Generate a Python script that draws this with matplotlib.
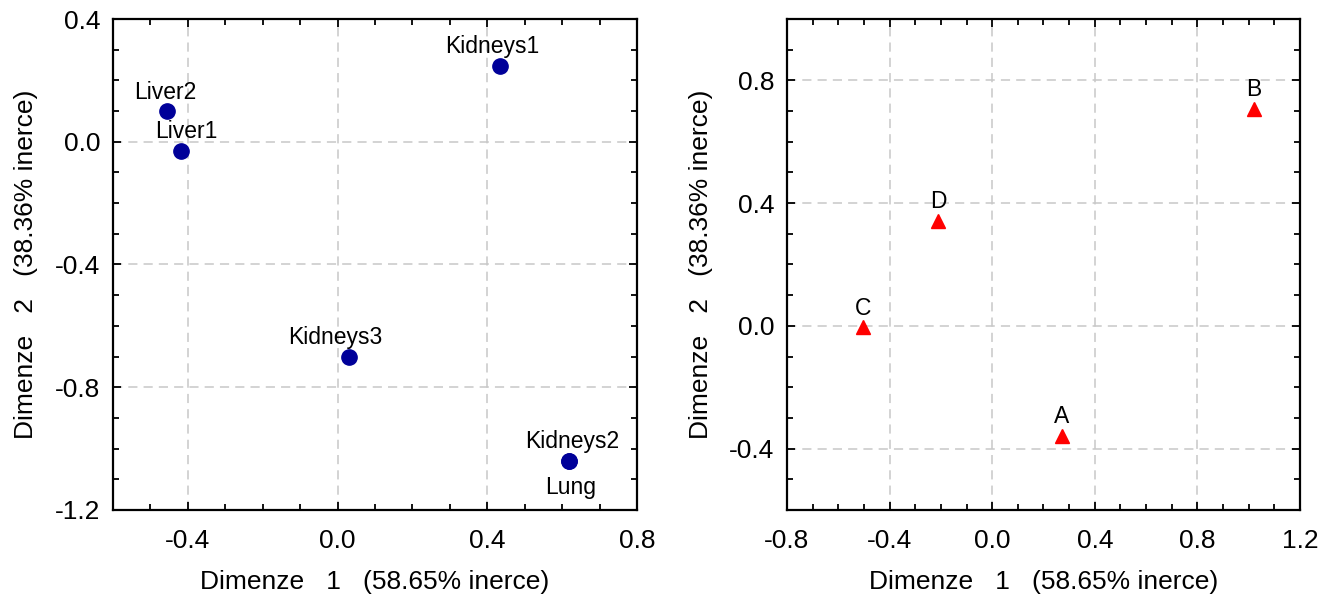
import numpy as np
import matplotlib
matplotlib.use('Agg')
import matplotlib.pyplot as plt
from matplotlib.ticker import MultipleLocator

plt.rcParams['font.family'] = ['Liberation Sans', 'DejaVu Sans']

# Row points (organs)
ROW_NAMES = ['Liver2', 'Liver1', 'Kidneys1', 'Kidneys3', 'Kidneys2', 'Lung']
ROW_X = [-0.456, -0.418, 0.435, 0.031, 0.619, 0.619]
ROW_Y = [0.10, -0.03, 0.247, -0.70, -1.04, -1.04]

# Column points
COL_NAMES = ['A', 'B', 'C', 'D']
COL_X = [0.272, 1.02, -0.504, -0.211]
COL_Y = [-0.358, 0.707, -0.005, 0.342]

XLABEL = 'Dimenze   1   (58.65% inerce)'
YLABEL = 'Dimenze   2   (38.36% inerce)'

# label offsets in points (dx, dy, va)
ROW_OFFSETS = [(-1, 9, 'baseline'), (4, 9, 'baseline'), (-6, 9, 'baseline'),
               (-10, 9, 'baseline'), (2, 9, 'baseline'), (1, -11, 'top')]


def style_axes(ax, xlim, ylim, xticks, yticks):
    ax.set_xlim(*xlim)
    ax.set_ylim(*ylim)
    ax.set_xticks(xticks)
    ax.set_yticks(yticks)
    ax.xaxis.set_minor_locator(MultipleLocator(0.1))
    ax.yaxis.set_minor_locator(MultipleLocator(0.1))
    ax.set_xticklabels([f'{t:.1f}' for t in xticks])
    ax.set_yticklabels([f'{t:.1f}' for t in yticks])
    ax.tick_params(which='both', direction='in', top=True, right=True,
                   labelsize=19, width=1.3)
    ax.tick_params(axis='x', which='major', pad=14)
    ax.tick_params(axis='y', which='major', pad=9)
    ax.tick_params(which='major', length=6)
    ax.tick_params(which='minor', length=4)
    ax.grid(True, which='major', color='#c8c8c8', linestyle=(0, (6, 4)), linewidth=1.1)
    ax.set_axisbelow(True)
    for s in ax.spines.values():
        s.set_linewidth(1.6)
    ax.set_xlabel(XLABEL, fontsize=19, labelpad=12)
    ax.set_ylabel(YLABEL, fontsize=19, labelpad=12)


fig = plt.figure(figsize=(13.26, 5.98), dpi=100)
ax1 = fig.add_axes([0.0852, 0.1472, 0.3952, 0.821])
ax2 = fig.add_axes([0.5935, 0.1472, 0.3869, 0.821])

# left: rows
ax1.plot(ROW_X, ROW_Y, 'o', color='#000099', markersize=11, zorder=3)
for name, x, y, (dx, dy, va) in zip(ROW_NAMES, ROW_X, ROW_Y, ROW_OFFSETS):
    ax1.annotate(name, (x, y), xytext=(dx, dy), textcoords='offset points',
                 ha='center', va=va, fontsize=16.5)
style_axes(ax1, (-0.6, 0.8), (-1.2, 0.4),
           [-0.4, 0.0, 0.4, 0.8], [-1.2, -0.8, -0.4, 0.0, 0.4])

# right: columns
ax2.plot(COL_X, COL_Y, '^', color='#ff0000', markersize=10, zorder=3)
for name, x, y in zip(COL_NAMES, COL_X, COL_Y):
    ax2.annotate(name, (x, y), xytext=(0, 9), textcoords='offset points',
                 ha='center', va='baseline', fontsize=16.5)
style_axes(ax2, (-0.8, 1.2), (-0.6, 1.0),
           [-0.8, -0.4, 0.0, 0.4, 0.8, 1.2], [-0.4, 0.0, 0.4, 0.8])

fig.savefig('out.png', dpi=100)
